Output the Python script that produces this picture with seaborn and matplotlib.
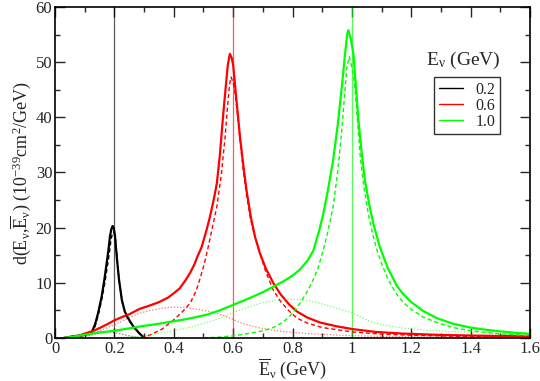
import numpy as np
import pandas as pd
import matplotlib
matplotlib.use('Agg')
import matplotlib.pyplot as plt
import seaborn as sns
from matplotlib.ticker import MultipleLocator, FuncFormatter
from matplotlib.lines import Line2D

# --- data (x in GeV, y in 1e-39 cm^2/GeV) ---
# E = 0.2 GeV (black)
x02_solid = [0.03, 0.06, 0.09, 0.115, 0.125, 0.135, 0.145, 0.157, 0.166, 0.174, 0.180, 0.185, 0.190, 0.194,
             0.198, 0.202, 0.208, 0.215, 0.225, 0.235, 0.245, 0.253, 0.265, 0.275, 0.285, 0.295, 0.305]
y02_solid = [0.0, 0.3, 0.5, 0.8, 1.2, 2.5, 4.5, 7.5, 10.5, 13.6, 16.0, 18.4, 19.8, 20.3,
             19.9, 18.5, 14.7, 10.8, 6.9, 4.8, 3.7, 3.0, 2.0, 1.4, 0.8, 0.3, 0.0]
x02_dash = [0.03, 0.06, 0.09, 0.115, 0.125, 0.135, 0.145, 0.157, 0.167, 0.176, 0.183, 0.188, 0.193, 0.197,
            0.201, 0.205, 0.210, 0.217, 0.227, 0.237, 0.247, 0.255, 0.267, 0.277, 0.287, 0.297, 0.307]
y02_dash = [0.0, 0.2, 0.4, 0.7, 1.0, 2.1, 4.0, 6.8, 9.8, 12.9, 15.4, 17.6, 18.9, 19.2,
            18.8, 17.2, 13.8, 10.0, 6.4, 4.4, 3.4, 2.7, 1.8, 1.2, 0.6, 0.2, 0.0]
x02_dot = [0.05, 0.09, 0.12, 0.15, 0.18, 0.21, 0.24, 0.27, 0.30]
y02_dot = [0.0, 0.2, 0.5, 0.9, 1.1, 0.9, 0.5, 0.2, 0.0]

# E = 0.6 GeV (red)
x06_solid = [0.03, 0.05, 0.08, 0.10, 0.13, 0.15, 0.18, 0.20, 0.23, 0.25, 0.286, 0.32, 0.35, 0.38, 0.40,
             0.42, 0.44, 0.455, 0.47, 0.48, 0.494, 0.51, 0.522, 0.535, 0.545, 0.555, 0.567, 0.575, 0.582,
             0.589, 0.595, 0.600, 0.606, 0.615, 0.623, 0.635, 0.645, 0.66, 0.674, 0.69, 0.71, 0.735,
             0.76, 0.79, 0.815, 0.85, 0.893, 0.95, 1.004, 1.08, 1.17, 1.30, 1.45, 1.60]
y06_solid = [0.0, 0.1, 0.4, 0.8, 1.3, 1.8, 2.6, 3.2, 3.9, 4.3, 5.3, 5.9, 6.5, 7.3, 8.1,
             9.0, 10.5, 11.8, 13.4, 14.8, 16.5, 19.5, 22.0, 25.2, 28.0, 33.0, 40.8, 45.5, 49.5,
             51.5, 50.8, 49.5, 46.0, 41.0, 36.5, 31.0, 26.8, 21.8, 18.3, 15.4, 12.6, 10.0,
             7.9, 6.0, 4.8, 3.7, 2.8, 2.1, 1.6, 1.1, 0.8, 0.55, 0.4, 0.3]
x06_dash = [0.29, 0.31, 0.33, 0.36, 0.40, 0.43, 0.455, 0.475, 0.49, 0.503, 0.516, 0.53, 0.545, 0.56,
            0.573, 0.582, 0.588, 0.593, 0.600, 0.606, 0.612, 0.622, 0.634, 0.645, 0.657, 0.67, 0.685,
            0.71, 0.735, 0.76, 0.79, 0.815, 0.85, 0.90, 1.00, 1.10, 1.20, 1.40, 1.60]
y06_dash = [0.0, 0.3, 0.8, 1.6, 3.3, 4.8, 6.3, 8.5, 11.0, 13.5, 16.5, 20.0, 23.8, 29.5,
            36.5, 42.5, 46.0, 47.3, 46.3, 44.5, 41.9, 36.5, 30.4, 26.0, 22.0, 19.0, 16.2,
            12.0, 8.7, 6.6, 4.8, 3.6, 2.7, 1.9, 1.1, 0.7, 0.5, 0.25, 0.15]
x06_dot = [0.05, 0.08, 0.12, 0.16, 0.20, 0.24, 0.28, 0.32, 0.36, 0.40, 0.44, 0.48, 0.52, 0.556,
           0.59, 0.623, 0.66, 0.70, 0.734, 0.78, 0.84, 0.90, 0.96, 1.05, 1.20, 1.40, 1.60]
y06_dot = [0.0, 0.2, 0.7, 1.5, 2.4, 3.4, 4.4, 5.0, 5.4, 5.6, 5.5, 5.2, 4.8, 4.3,
           3.6, 2.8, 2.2, 1.7, 1.4, 1.1, 0.85, 0.65, 0.5, 0.35, 0.2, 0.1, 0.05]

# E = 1.0 GeV (green)
x10_solid = [0.03, 0.05, 0.08, 0.10, 0.15, 0.20, 0.25, 0.286, 0.34, 0.397, 0.45, 0.51, 0.55, 0.60,
             0.65, 0.70, 0.735, 0.77, 0.80, 0.825, 0.85, 0.87, 0.89, 0.904, 0.92, 0.937, 0.952, 0.966,
             0.976, 0.984, 0.988, 0.995, 1.005, 1.013, 1.022, 1.033, 1.044, 1.058, 1.072, 1.094, 1.12,
             1.15, 1.172, 1.20, 1.24, 1.286, 1.34, 1.398, 1.45, 1.50, 1.55, 1.60]
y10_solid = [0.0, 0.15, 0.4, 0.6, 1.0, 1.3, 1.75, 2.1, 2.5, 3.0, 3.5, 4.2, 4.9, 6.0,
             7.1, 8.3, 9.3, 10.3, 11.3, 12.4, 14.0, 15.8, 19.5, 22.6, 27.0, 32.3, 38.5, 45.5,
             51.0, 55.0, 55.8, 54.5, 51.6, 46.0, 39.5, 33.5, 28.6, 24.3, 20.8, 16.5, 12.8,
             9.6, 8.0, 6.5, 4.9, 3.6, 2.6, 1.9, 1.5, 1.2, 0.95, 0.75]
x10_dash = [0.50, 0.55, 0.60, 0.65, 0.70, 0.735, 0.76, 0.78, 0.80, 0.825, 0.845, 0.865, 0.885, 0.904,
            0.92, 0.937, 0.952, 0.966, 0.976, 0.983, 0.991, 0.998, 1.005, 1.010, 1.018, 1.027, 1.04,
            1.055, 1.07, 1.083, 1.10, 1.12, 1.15, 1.172, 1.20, 1.24, 1.286, 1.34, 1.40, 1.50, 1.60]
y10_dash = [0.0, 0.15, 0.4, 0.8, 1.3, 1.9, 2.6, 3.4, 4.5, 6.3, 8.0, 10.0, 12.5, 16.0,
            19.5, 23.9, 30.0, 37.7, 44.5, 49.0, 51.0, 49.5, 47.5, 45.5, 40.0, 33.5, 27.5,
            22.6, 18.8, 16.2, 13.5, 10.8, 8.0, 6.5, 5.2, 3.8, 2.8, 1.9, 1.3, 0.75, 0.45]
x10_dot = [0.20, 0.25, 0.30, 0.35, 0.40, 0.45, 0.50, 0.556, 0.60, 0.65, 0.70, 0.75, 0.80, 0.85,
           0.893, 0.93, 0.96, 1.00, 1.03, 1.06, 1.10, 1.172, 1.25, 1.32, 1.40, 1.50, 1.60]
y10_dot = [0.0, 0.15, 0.4, 0.8, 1.3, 1.9, 2.6, 3.6, 4.6, 5.6, 6.4, 6.9, 7.0, 6.8,
           6.3, 5.7, 5.2, 4.6, 3.8, 3.0, 2.4, 1.8, 1.4, 1.2, 1.0, 0.7, 0.5]

energies = ['0.2', '0.6', '1.0']
e_values = [0.2, 0.6, 1.0]
colors = ['#000000', '#ff0000', '#00ff00']

series = [
    (x02_solid, y02_solid, x02_dash, y02_dash, x02_dot, y02_dot),
    (x06_solid, y06_solid, x06_dash, y06_dash, x06_dot, y06_dot),
    (x10_solid, y10_solid, x10_dash, y10_dash, x10_dot, y10_dot),
]

sns.set_style('ticks')
plt.rcParams['font.family'] = ['Liberation Serif', 'DejaVu Serif']
plt.rcParams['mathtext.fontset'] = 'custom'
plt.rcParams['mathtext.rm'] = 'Liberation Serif'
plt.rcParams['mathtext.it'] = 'Liberation Serif:italic'
plt.rcParams['mathtext.bf'] = 'Liberation Serif:bold'

fig = plt.figure(figsize=(5.4, 3.81), dpi=100)
ax = fig.add_axes([0.1019, 0.1129, 0.8796, 0.8687])

for (xs, ys, xd, yd, xo, yo), c, e in zip(series, colors, e_values):
    ax.axvline(e, color=c, lw=0.9, alpha=0.65, zorder=1)
    sns.lineplot(x=xo, y=yo, ax=ax, color=c, lw=0.9, ls=(0, (1, 1.5)), alpha=0.55,
                 sort=False, estimator=None)
    sns.lineplot(x=xd, y=yd, ax=ax, color=c, lw=1.0, ls=(0, (3, 2)),
                 sort=False, estimator=None)
    sns.lineplot(x=xs, y=ys, ax=ax, color=c, lw=1.6, sort=False, estimator=None)

ax.set_xlim(0, 1.6)
ax.set_ylim(0, 60)
ax.xaxis.set_major_locator(MultipleLocator(0.2))
ax.xaxis.set_minor_locator(MultipleLocator(0.1))
ax.yaxis.set_major_locator(MultipleLocator(10))
ax.yaxis.set_minor_locator(MultipleLocator(5))
ax.xaxis.set_major_formatter(FuncFormatter(lambda v, p: '%g' % round(v, 3)))
ax.tick_params(which='both', direction='in', top=True, right=True, labelsize=12, width=1, pad=2)
ax.tick_params(which='major', length=7)
ax.tick_params(which='minor', length=3.5)
for s in ax.spines.values():
    s.set_linewidth(1.2)
    s.set_color('black')

nu = r'$_{\mathrm{ν}}$'
ax.set_xlabel(r'$\overline{\mathrm{E}}$' + nu + ' (GeV)', fontsize=13, labelpad=0)
ax.set_ylabel('d(E' + nu + r',$\overline{\mathrm{E}}$' + nu + r') (10$^{-39}$cm$^{2}$/GeV)',
              fontsize=13, labelpad=2)

handles = [Line2D([], [], color=c, lw=1.0) for c in colors]
leg = ax.legend(handles, energies, loc='upper left', bbox_to_anchor=(0.798, 0.789),
                borderaxespad=0, fancybox=False, fontsize=11.5, handlelength=1.5,
                handletextpad=0.8, labelspacing=0.0, borderpad=0.3)
leg.get_frame().set_edgecolor('black')
leg.get_frame().set_linewidth(1.0)
ax.text(0.859, 0.838, 'E' + nu + ' (GeV)', transform=ax.transAxes,
        ha='center', va='center', fontsize=14)

fig.savefig('out.png', dpi=100)
